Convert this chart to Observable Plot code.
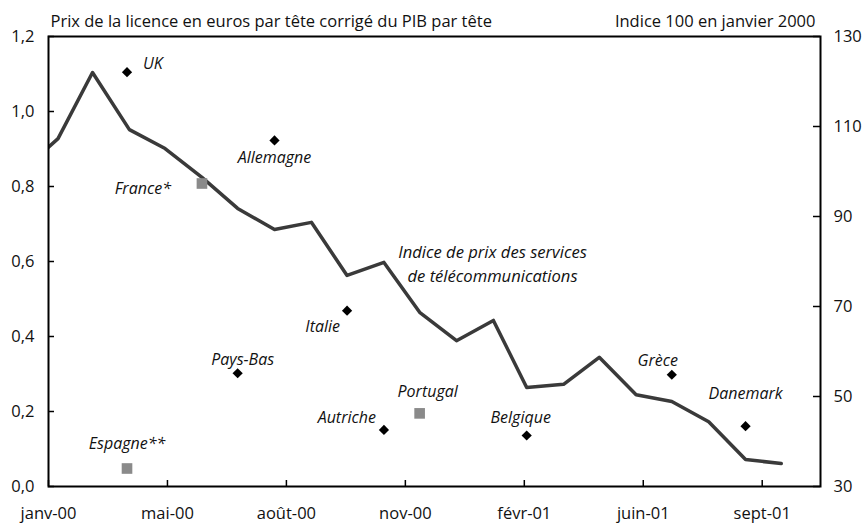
<!DOCTYPE html>
<html><head><meta charset="utf-8">
<script src="https://cdn.jsdelivr.net/npm/d3@7"></script>
<script src="https://cdn.jsdelivr.net/npm/@observablehq/plot@0.6"></script>
<style>body{margin:0;background:#fff;font-family:"Open Sans",sans-serif}</style>
</head><body><div id="chart"></div>
<script>
// ---- data ----
const months = ["2000-01-01","2000-02-01","2000-03-01","2000-04-01","2000-05-01","2000-06-01","2000-07-01","2000-08-01","2000-09-01","2000-10-01","2000-11-01","2000-12-01",
  "2001-01-01","2001-02-01","2001-03-01","2001-04-01","2001-05-01","2001-06-01","2001-07-01","2001-08-01","2001-09-01","2001-10-01"];
const indexValues = [100,107.3,122,109.3,105.1,98.7,91.8,87.1,88.7,76.9,79.8,68.7,62.4,66.9,52,52.7,58.7,50.4,48.9,44.4,36,35.1];

const countries = ["UK","Espagne**","France*","Pays-Bas","Allemagne","Italie","Autriche","Portugal","Belgique","Grèce","Danemark"];
const countryDates = ["2000-03-30","2000-03-30","2000-06-01","2000-07-01","2000-08-01","2000-10-01","2000-11-01","2000-12-01","2001-03-01","2001-07-01","2001-09-01"];
const countryValues = [1.105,0.048,0.808,0.302,0.923,0.469,0.151,0.195,0.136,0.298,0.161];
const countryKinds = ["enchères","concours","concours","enchères","enchères","enchères","enchères","concours","enchères","enchères","enchères"];

const leftTicks = [0,0.2,0.4,0.6,0.8,1.0,1.2];
const rightTicks = [30,50,70,90,110,130];
const tickLabels = ["janv-00","mai-00","août-00","nov-00","févr-01","juin-01","sept-01"];
const axisStart = "2000-01-24";
const axisEnd = "2001-11-03";
const tickStepDays = 100;

const titleLeft = "Prix de la licence en euros par tête corrigé du PIB par tête";
const titleRight = "Indice 100 en janvier 2000";
const lineLabel = "Indice de prix des services\nde télécommunications";

// ---- derived ----
const parse = s => new Date(s + "T00:00:00Z");
const toLeft = v => (v - 30) * 1.2 / 100;   // right axis -> left scale
const lineData = months.map((m, i) => ({date: parse(m), value: toLeft(indexValues[i])}));
const points = countries.map((c, i) => ({name: c, date: parse(countryDates[i]), value: countryValues[i], kind: countryKinds[i]}));
const start = parse(axisStart);
const tickDates = tickLabels.map((_, i) => d3.utcDay.offset(start, tickStepDays * i));

// label layout (px offsets)
const labelLayout = {
  "UK": {anchor: "start", dx: 16, dy: -8},
  "Espagne**": {anchor: "middle", dx: 0, dy: -25},
  "France*": {anchor: "end", dx: -31, dy: 5},
  "Pays-Bas": {anchor: "middle", dx: 5, dy: -13},
  "Allemagne": {anchor: "middle", dx: 0, dy: 17},
  "Italie": {anchor: "end", dx: -7, dy: 16},
  "Autriche": {anchor: "end", dx: -8, dy: -12},
  "Portugal": {anchor: "middle", dx: 8, dy: -22},
  "Belgique": {anchor: "middle", dx: -6, dy: -18},
  "Grèce": {anchor: "middle", dx: -14, dy: -14},
  "Danemark": {anchor: "middle", dx: 0, dy: -32}
};

const W = 866, H = 524, mL = 48, mR = 46, mT = 36, mB = 38;
const pw = W - mL - mR, ph = H - mT - mB;
const font = "'Open Sans', sans-serif";

const labelMarks = points.map(p => {
  const L = labelLayout[p.name];
  return Plot.text([p], {x: "date", y: "value", text: "name", textAnchor: L.anchor, dx: L.dx, dy: L.dy,
    fontSize: 16, fontStyle: "italic", fill: "#111"});
});

const chart = Plot.plot({
  width: W, height: H,
  marginLeft: mL, marginRight: mR, marginTop: mT, marginBottom: mB,
  style: {fontFamily: font, background: "#fff", color: "#111", overflow: "visible"},
  x: {type: "utc", domain: [start, parse(axisEnd)], axis: null},
  y: {domain: [0, 1.2], axis: null},
  marks: [
    Plot.line(lineData, {x: "date", y: "value", stroke: "#3a3a3a", strokeWidth: 3.5, clip: true}),
    Plot.dot(points.filter(d => d.kind === "enchères"), {x: "date", y: "value", symbol: "diamond2", r: 4.6, fill: "#000", stroke: "none"}),
    Plot.dot(points.filter(d => d.kind === "concours"), {x: "date", y: "value", symbol: "square", r: 6, fill: "#8a8a8a", stroke: "none"}),
    ...labelMarks,
    Plot.text([lineLabel], {x: () => lineData[12].date, y: () => lineData[12].value, text: d => d, dx: 36, dy: -78,
      textAnchor: "middle", lineAnchor: "middle", lineHeight: 1.45, fontSize: 16.6, fontStyle: "italic", fill: "#111"}),
    // inward ticks
    Plot.tickY(leftTicks, {y: d => d, insetRight: pw - 6, stroke: "#000", strokeWidth: 1.5}),
    Plot.tickY(rightTicks.map(toLeft), {y: d => d, insetLeft: pw - 7, stroke: "#000", strokeWidth: 1.5}),
    Plot.tickX(tickDates, {x: d => d, insetTop: ph - 6, stroke: "#000", strokeWidth: 1.5}),
    Plot.frame({stroke: "#000", strokeWidth: 2}),
    // axis labels
    Plot.axisY(leftTicks, {anchor: "left", tickSize: 0, tickPadding: 14, fontSize: 16.5,
      tickFormat: d => d.toFixed(1).replace(".", ","), label: null}),
    Plot.axisY(rightTicks.map(toLeft), {anchor: "right", tickSize: 0, tickPadding: 13, fontSize: 16.5,
      tickFormat: d => String(Math.round(d * 100 / 1.2 + 30)), label: null}),
    Plot.axisX(tickDates, {anchor: "bottom", tickSize: 0, tickPadding: 21, fontSize: 16.5,
      tickFormat: d => tickLabels[tickDates.findIndex(t => +t === +d)], label: null}),
    // headers
    Plot.text([titleLeft], {frameAnchor: "top-left", text: d => d, dx: 2, dy: -15, textAnchor: "start", lineAnchor: "middle", fontSize: 16.5, fill: "#111"}),
    Plot.text([titleRight], {frameAnchor: "top-right", text: d => d, dx: -5, dy: -15, textAnchor: "end", lineAnchor: "middle", fontSize: 16.5, fill: "#111"})
  ]
});
document.getElementById("chart").appendChild(chart);
</script>
</body></html>
